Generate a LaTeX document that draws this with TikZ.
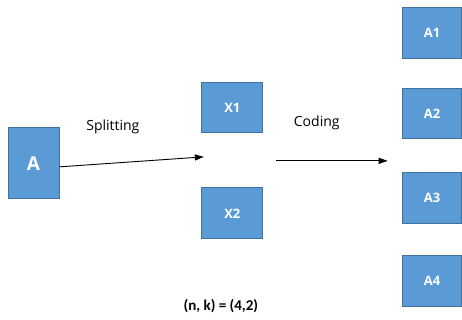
\documentclass[tikz,border=0pt]{standalone}
\usepackage{fontspec}
\setmainfont{Carlito}
\newfontfamily\labelfont{Open Sans}
\usetikzlibrary{arrows.meta}
\definecolor{boxblue}{HTML}{5B9BD5}
\definecolor{boxline}{HTML}{41719C}
\begin{document}
\begin{tikzpicture}[x=1pt, y=-1pt,
    block/.style={draw=boxline, fill=boxblue, line width=0.8pt, text=white, font=\labelfont\fontsize{13}{15}\selectfont\bfseries, minimum width=59pt, minimum height=51pt, inner sep=0pt},
    flow/.style={-{Triangle[length=9pt, width=6pt]}, line width=0.9pt}]
            \path[fill=white] (0, 0) rectangle (462, 320);
            \node[block, minimum width=51pt, minimum height=71pt, font=\labelfont\fontsize{19}{21}\selectfont\bfseries] (a) at (33.5, 163.5) {A};
            \node[block, minimum width=61pt] (x1) at (232.5, 107.5) {X1};
            \node[block, minimum width=61pt] (x2) at (232.5, 213.5) {X2};
            \node[block] (a1) at (432.5, 32.5) {A1};
            \node[block] (a2) at (432.5, 113.5) {A2};
            \node[block] (a3) at (432.5, 198.5) {A3};
            \node[block] (a4) at (432.5, 281.5) {A4};
            \coordinate (split) at (204, 157);
            \coordinate (codefrom) at (276, 161);
            \coordinate (codeto) at (388, 161);
            \draw[flow] (a.east |- 0, 167) -- (split);
            \draw[flow] (codefrom) -- (codeto);
            \node[font=\labelfont\fontsize{14}{16}\selectfont] (splitlbl) at (113, 127) {Splitting};
            \node[font=\labelfont\fontsize{14}{16}\selectfont] (codelbl) at (317, 123) {Coding};
            \node[font=\fontsize{15}{17}\selectfont\bfseries] (nk) at (221, 306) {(n, k) = (4,2)};
        \end{tikzpicture}
\end{document}
